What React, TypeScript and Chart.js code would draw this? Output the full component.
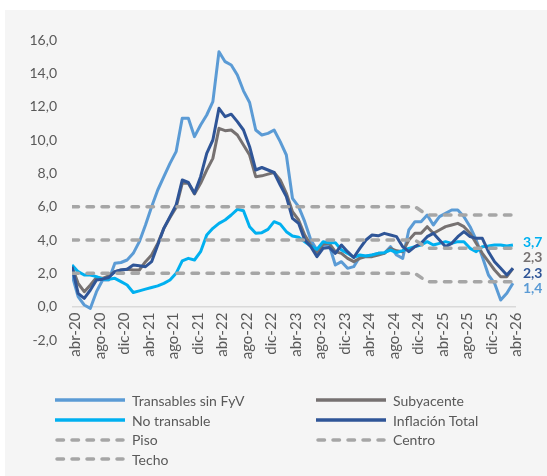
import React, { useEffect, useRef } from "react";
import { Chart, registerables } from "chart.js";

Chart.register(...registerables);

// Tick labels (every 4th month, abr-20 .. abr-26)
const tickLabels = [
  "abr-20", "ago-20", "dic-20", "abr-21", "ago-21", "dic-21", "abr-22", "ago-22", "dic-22",
  "abr-23", "ago-23", "dic-23", "abr-24", "ago-24", "dic-24", "abr-25", "ago-25", "dic-25", "abr-26",
];
const TICK_EVERY = 4;

const yTicks = [-2, 0, 2, 4, 6, 8, 10, 12, 14, 16];

// Monthly series abr-20 .. abr-26 (73 months)
const transables = [
  1.9, 0.6, 0.1, -0.1, 0.9, 1.6, 1.6, 2.6, 2.65, 2.8, 3.2, 3.9, 4.9, 6.0, 7.0, 7.8, 8.6, 9.3, 11.3, 11.3,
  10.2, 10.9, 11.5, 12.3, 15.3, 14.7, 14.5, 13.9, 12.95, 12.25, 10.6, 10.3, 10.4, 10.6, 9.9, 9.1, 6.5, 6.0, 5.1, 4.0,
  3.4, 3.7, 3.7, 2.5, 2.7, 2.3, 2.4, 3.0, 3.04, 3.1, 3.2, 3.2, 3.6, 3.1, 2.9, 4.6, 5.1, 5.1, 5.5, 4.9,
  5.4, 5.6, 5.8, 5.8, 5.4, 4.8, 4.0, 3.0, 1.9, 1.4, 0.4, 0.8, 1.4,
];
const subyacente = [
  2.4, 1.4, 0.9, 1.3, 1.75, 1.7, 1.85, 2.1, 2.2, 2.25, 2.2, 2.2, 2.7, 3.1, 3.8, 4.7, 5.35, 5.95, 7.4, 7.4,
  6.76, 7.4, 8.2, 8.9, 10.7, 10.56, 10.6, 10.3, 9.7, 9.1, 7.8, 7.85, 7.95, 8.05, 7.6, 6.8, 5.7, 5.2, 4.3, 3.7,
  3.2, 3.76, 3.8, 3.3, 3.2, 2.9, 2.7, 2.9, 3.0, 3.0, 3.1, 3.2, 3.5, 3.35, 3.3, 4.0, 4.4, 4.4, 4.8, 4.4,
  4.6, 4.8, 4.9, 5.0, 4.8, 4.4, 3.8, 3.2, 2.7, 2.2, 1.8, 1.8, 2.3,
];
const noTransable = [
  2.5, 2.1, 1.9, 1.9, 1.8, 1.65, 1.65, 1.7, 1.5, 1.3, 0.85, 0.95, 1.05, 1.15, 1.25, 1.4, 1.6, 2.0, 2.75, 2.9,
  2.8, 3.3, 4.3, 4.7, 5.0, 5.2, 5.5, 5.84, 5.76, 4.8, 4.4, 4.44, 4.64, 5.1, 4.95, 4.5, 4.24, 4.16, 3.9, 3.64,
  3.44, 3.9, 3.84, 3.84, 3.4, 3.2, 2.96, 3.1, 3.04, 3.1, 3.2, 3.24, 3.4, 3.25, 3.36, 3.5, 3.6, 3.7, 3.9, 3.7,
  3.8, 3.9, 3.8, 3.9, 3.9, 3.5, 3.3, 3.6, 3.64, 3.7, 3.7, 3.64, 3.7,
];
const inflacionTotal = [
  2.4, 0.8, 0.5, 1.0, 1.6, 1.65, 1.75, 2.1, 2.2, 2.25, 2.5, 2.45, 2.4, 2.7, 3.7, 4.7, 5.4, 6.1, 7.6, 7.45,
  6.8, 7.8, 9.2, 10.0, 11.9, 11.4, 11.55, 11.1, 10.6, 9.6, 8.2, 8.35, 8.2, 8.05, 7.3, 6.6, 5.3, 5.0, 4.0, 3.6,
  3.0, 3.5, 3.55, 3.2, 3.7, 3.3, 2.95, 3.5, 4.0, 4.3, 4.25, 4.4, 4.3, 4.2, 3.6, 3.3, 3.6, 3.8, 4.2, 4.4,
  4.0, 3.6, 3.8, 4.2, 4.5, 4.2, 4.1, 4.1, 3.3, 2.7, 2.3, 1.9, 2.3,
];
const piso = [
  2, 2, 2, 2, 2, 2, 2, 2, 2, 2, 2, 2, 2, 2, 2, 2, 2, 2, 2, 2,
  2, 2, 2, 2, 2, 2, 2, 2, 2, 2, 2, 2, 2, 2, 2, 2, 2, 2, 2, 2,
  2, 2, 2, 2, 2, 2, 2, 2, 2, 2, 2, 2, 2, 2, 2, 2, 2, null, 1.5, 1.5,
  1.5, 1.5, 1.5, 1.5, 1.5, 1.5, 1.5, 1.5, 1.5, 1.5, 1.5, 1.5, 1.5,
];
const centro = [
  4, 4, 4, 4, 4, 4, 4, 4, 4, 4, 4, 4, 4, 4, 4, 4, 4, 4, 4, 4,
  4, 4, 4, 4, 4, 4, 4, 4, 4, 4, 4, 4, 4, 4, 4, 4, 4, 4, 4, 4,
  4, 4, 4, 4, 4, 4, 4, 4, 4, 4, 4, 4, 4, 4, 4, 4, 4, null, 3.5, 3.5,
  3.5, 3.5, 3.5, 3.5, 3.5, 3.5, 3.5, 3.5, 3.5, 3.5, 3.5, 3.5, 3.5,
];
const techo = [
  6, 6, 6, 6, 6, 6, 6, 6, 6, 6, 6, 6, 6, 6, 6, 6, 6, 6, 6, 6,
  6, 6, 6, 6, 6, 6, 6, 6, 6, 6, 6, 6, 6, 6, 6, 6, 6, 6, 6, 6,
  6, 6, 6, 6, 6, 6, 6, 6, 6, 6, 6, 6, 6, 6, 6, 6, 6, null, 5.5, 5.5,
  5.5, 5.5, 5.5, 5.5, 5.5, 5.5, 5.5, 5.5, 5.5, 5.5, 5.5, 5.5, 5.5,
];

const FONT = "Lato, 'Open Sans', sans-serif";
const TEXT = "#595959";
const DASH_COLOR = "#A6A6A6";

type SeriesDef = {
  name: string;
  data: (number | null)[];
  color: string;
  dashed: boolean;
  order: number;
  endLabelDy?: number;
};

const series: SeriesDef[] = [
  { name: "Transables sin FyV", data: transables, color: "#5B9BD5", dashed: false, order: 6, endLabelDy: 5 },
  { name: "Subyacente", data: subyacente, color: "#767171", dashed: false, order: 5, endLabelDy: -11 },
  { name: "No transable", data: noTransable, color: "#00B0F0", dashed: false, order: 4, endLabelDy: -3 },
  { name: "Inflación Total", data: inflacionTotal, color: "#2F5597", dashed: false, order: 3, endLabelDy: 5 },
  { name: "Piso", data: piso, color: DASH_COLOR, dashed: true, order: 2 },
  { name: "Centro", data: centro, color: DASH_COLOR, dashed: true, order: 1 },
  { name: "Techo", data: techo, color: DASH_COLOR, dashed: true, order: 0 },
];

const fmt = (v: number) => v.toFixed(1).replace(".", ",");

const xLabelsPlugin = {
  id: "xLabels",
  afterDraw(chart: any) {
    const { ctx, scales } = chart;
    const xs = scales.x;
    const ys = scales.y;
    const y0 = ys.getPixelForValue(0) + 6;
    ctx.save();
    ctx.font = `15px ${FONT}`;
    ctx.fillStyle = TEXT;
    ctx.textAlign = "right";
    ctx.textBaseline = "middle";
    tickLabels.forEach((lab, k) => {
      const x = xs.getPixelForValue(k * TICK_EVERY) + 3.5;
      ctx.save();
      ctx.translate(x, y0);
      ctx.rotate(-Math.PI / 2);
      ctx.fillText(lab, 0, 0);
      ctx.restore();
    });
    ctx.restore();
  },
};

const endLabelsPlugin = {
  id: "endLabels",
  afterDatasetsDraw(chart: any) {
    const { ctx, scales } = chart;
    ctx.save();
    ctx.font = `bold 14px ${FONT}`;
    ctx.textAlign = "left";
    ctx.textBaseline = "middle";
    series.forEach((s) => {
      if (s.dashed) return;
      const last = s.data.length - 1;
      const v = s.data[last] as number;
      const x = scales.x.getPixelForValue(last) + 10;
      const y = scales.y.getPixelForValue(v) + (s.endLabelDy || 0);
      ctx.fillStyle = s.color;
      ctx.fillText(fmt(v), x, y);
    });
    ctx.restore();
  },
};

function LegendSample({ s }: { s: SeriesDef }) {
  return (
    <svg width={70} height={10} style={{ display: "block" }}>
      {s.dashed ? (
        <line x1={2} y1={5} x2={68} y2={5} stroke={s.color} strokeWidth={3.5} strokeDasharray="6.5 8.5" strokeLinecap="round" />
      ) : (
        <line x1={0} y1={5} x2={70} y2={5} stroke={s.color} strokeWidth={3.5} />
      )}
    </svg>
  );
}

export default function App() {
  const ref = useRef<HTMLCanvasElement | null>(null);

  useEffect(() => {
    if (!ref.current) return;
    const chart = new Chart(ref.current, {
      type: "line",
      data: {
        datasets: series.map((s) => ({
          label: s.name,
          data: s.data.map((v, i) => ({ x: i, y: v })),
          borderColor: s.color,
          backgroundColor: s.color,
          borderWidth: s.dashed ? 3.5 : 3,
          borderDash: s.dashed ? [6.5, 8.5] : [],
          borderCapStyle: s.dashed ? "round" : "butt",
          borderJoinStyle: "round",
          pointRadius: 0,
          tension: 0,
          spanGaps: true,
          order: s.order,
          fill: false,
        })),
      } as any,
      options: {
        animation: false,
        responsive: false,
        maintainAspectRatio: false,
        layout: { padding: { top: 40, bottom: 136, right: 31, left: 0 } },
        plugins: { legend: { display: false }, tooltip: { enabled: false } },
        scales: {
          x: { type: "linear", min: 0, max: 72.5, display: false },
          y: {
            min: yTicks[0],
            max: yTicks[yTicks.length - 1],
            afterFit: (s: any) => {
              s.width = 72;
            },
            afterBuildTicks: (s: any) => {
              s.ticks = yTicks.map((v) => ({ value: v }));
            },
            ticks: {
              padding: 15,
              color: TEXT,
              font: { family: FONT, size: 14 },
              callback: (v: any) => fmt(Number(v)),
            },
            grid: {
              drawTicks: false,
              color: (c: any) => (c.tick && c.tick.value === 0 ? "#D9D9D9" : "rgba(0,0,0,0)"),
              lineWidth: 1.5,
            },
            border: { display: false },
          },
        },
      } as any,
      plugins: [xLabelsPlugin, endLabelsPlugin],
    });
    return () => chart.destroy();
  }, []);

  const rows = [
    [series[0], series[1]],
    [series[2], series[3]],
    [series[4], series[5]],
    [series[6]],
  ];
  const rowCenters = [400, 420, 439.5, 459];

  return (
    <div style={{ position: "fixed", left: 0, top: 0, width: 547, height: 476, background: "#ffffff", overflow: "hidden" }}>
      <div style={{ position: "absolute", left: 5, top: 10, width: 542, height: 466, background: "#F5F5F5" }} />
      <canvas ref={ref} width={547} height={476} style={{ position: "absolute", left: 0, top: 0, width: 547, height: 476, display: "block" }} />
      {rows.map((row, r) =>
        row.map((s, c) => (
          <div
            key={s.name}
            style={{
              position: "absolute",
              left: c === 0 ? 55 : 316,
              top: rowCenters[r] - 10,
              height: 20,
              display: "flex",
              alignItems: "center",
              fontFamily: FONT,
              fontSize: 14,
              color: TEXT,
              whiteSpace: "nowrap",
            }}
          >
            <LegendSample s={s} />
            <span style={{ marginLeft: 7 }}>{s.name}</span>
          </div>
        ))
      )}
    </div>
  );
}
